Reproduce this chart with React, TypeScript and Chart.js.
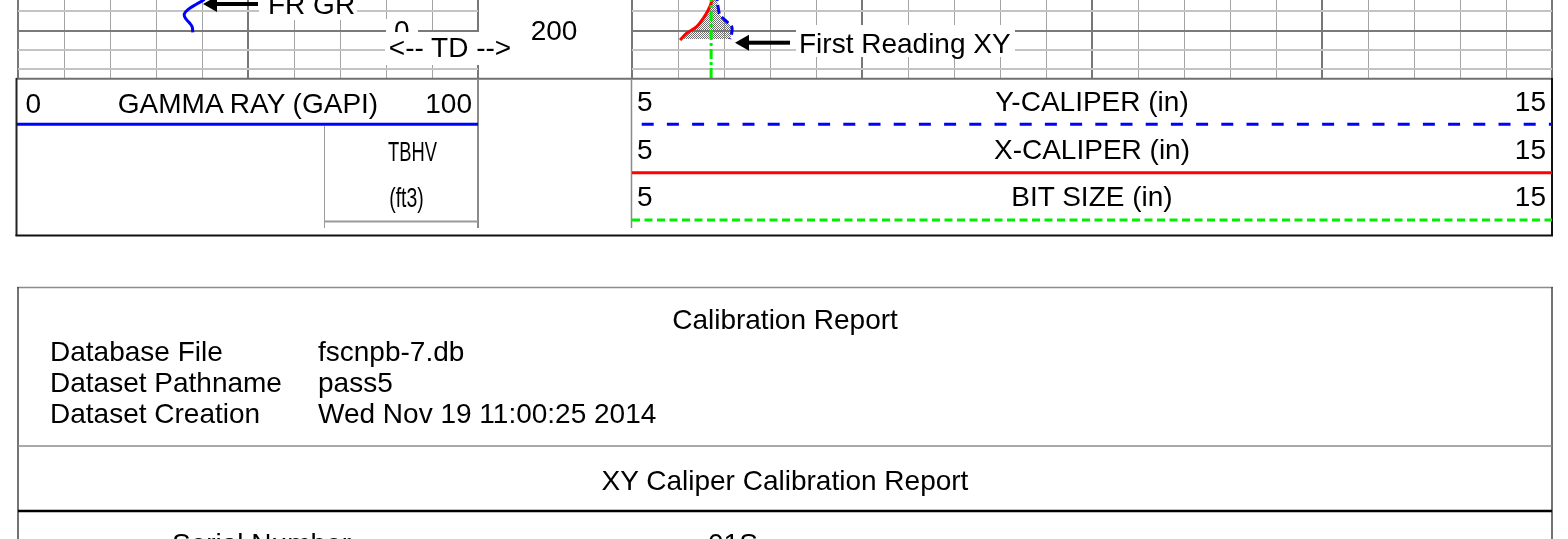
import React, { useEffect, useRef } from "react";
import { Chart, registerables } from "chart.js";
Chart.register(...registerables);

const FONT = '"Liberation Sans", Arial, Helvetica, sans-serif';

// Depth axis (ft) – shared by both tracks
const depthMin = 196;
const depthMax = 205;
const depthStep = 2;
const depthMajor = 10;

// Track 1: gamma ray
const grMin = 0;
const grMax = 100;
const grStep = 10;
const grMajor = 50;
const grDepth = [196.0, 196.83, 197.24, 197.79, 198.28, 198.72, 199.18, 199.59, 200.17];
const grValue = [41.7, 40.3, 38.85, 37.0, 36.15, 36.4, 37.25, 37.85, 38.0];

// Track 2: calipers (in)
const calMin = 5;
const calMax = 15;
const calStep = 0.5;
const calMajor = 2.5;
const xCalDepth = [196.0, 197.0, 197.86, 198.72, 199.59, 200.27, 200.97];
const xCalValue = [5.89, 5.866, 5.829, 5.775, 5.703, 5.595, 5.522];
const yCalDepth = [196.0, 196.83, 197.69, 198.38, 199.07, 199.59, 200.27, 200.86];
const yCalValue = [5.91, 5.925, 5.938, 5.957, 6.029, 6.084, 6.084, 6.065];
const bitDepth = [196, 205];
const bitValue = [5.86, 5.86];

// Header / report texts
const grHeader = ["0", "GAMMA RAY (GAPI)", "100"];
const calHeaders = ["Y-CALIPER (in)", "X-CALIPER (in)", "BIT SIZE (in)"];
const calScale = ["5", "15"];
const reportLabels = ["Database File", "Dataset Pathname", "Dataset Creation"];
const reportValues = ["fscnpb-7.db", "pass5", "Wed Nov 19 11:00:25 2014"];

function pts(xs: number[], ys: number[]) {
  return xs.map((x, i) => ({ x, y: ys[i] }));
}

function trackOptions(min: number, max: number, step: number, major: number): any {
  const isMul = (v: number, m: number, base: number) =>
    Math.abs((v - base) / m - Math.round((v - base) / m)) < 1e-6;
  return {
    responsive: false,
    maintainAspectRatio: false,
    animation: false,
    devicePixelRatio: 1,
    indexAxis: "y",
    layout: { padding: { left: 2, right: 2, top: 0, bottom: 0 }, autoPadding: false },
    plugins: { legend: { display: false }, tooltip: { enabled: false }, title: { display: false } },
    elements: { point: { radius: 0 } },
    scales: {
      x: {
        type: "linear",
        min,
        max,
        border: { display: false },
        ticks: { display: false, stepSize: step, includeBounds: false },
        grid: {
          drawTicks: false,
          color: (c: any) => (c.tick && isMul(c.tick.value, major, min) ? "#777777" : "#a4a4a4"),
          lineWidth: (c: any) => (c.tick && isMul(c.tick.value, major, min) ? 2 : 1),
        },
      },
      y: {
        type: "linear",
        reverse: true,
        min: depthMin,
        max: depthMax,
        border: { display: false },
        ticks: { display: false, stepSize: depthStep, includeBounds: false },
        grid: {
          drawTicks: false,
          color: (c: any) => (c.tick && c.tick.value % depthMajor === 0 ? "#7a7a7a" : "#c4c4c4"),
          lineWidth: 2,
        },
      },
    },
  };
}

function Arrow({ tipX, y, tailX }: { tipX: number; y: number; tailX: number }) {
  return (
    <g fill="#000">
      <polygon points={`${tipX},${y} ${tipX + 14},${y - 8} ${tipX + 14},${y + 8}`} />
      <rect x={tipX + 13} y={y - 2} width={tailX - tipX - 13} height={4} />
    </g>
  );
}

export default function App() {
  const grRef = useRef<HTMLCanvasElement>(null);
  const calRef = useRef<HTMLCanvasElement>(null);

  useEffect(() => {
    const pc = document.createElement("canvas");
    pc.width = 2;
    pc.height = 2;
    const g = pc.getContext("2d")!;
    g.fillStyle = "#707070";
    g.fillRect(0, 0, 1, 1);
    g.fillRect(1, 1, 1, 1);
    const pattern = g.createPattern(pc, "repeat");

    const c1 = new Chart(grRef.current!, {
      type: "line",
      data: {
        datasets: [
          {
            label: "GR",
            data: pts(grValue, grDepth),
            borderColor: "#0000ff",
            borderWidth: 3,
            tension: 0.35,
            fill: false,
          },
        ],
      },
      options: trackOptions(grMin, grMax, grStep, grMajor),
    } as any);

    const c2 = new Chart(calRef.current!, {
      type: "line",
      data: {
        datasets: [
          {
            label: "X-CALIPER",
            data: pts(xCalValue, xCalDepth),
            borderColor: "#ff0000",
            borderWidth: 3,
            tension: 0.35,
            fill: "+1",
            backgroundColor: pattern,
            order: 3,
          },
          {
            label: "Y-CALIPER",
            data: pts(yCalValue, yCalDepth),
            borderColor: "#0000ff",
            borderWidth: 3,
            borderDash: [9, 4],
            tension: 0.35,
            fill: false,
            order: 2,
          },
          {
            label: "BIT SIZE",
            data: pts(bitValue, bitDepth),
            borderColor: "#00ee00",
            borderWidth: 3,
            borderDash: [10, 3, 3, 3],
            fill: false,
            order: 1,
          },
        ],
      },
      options: trackOptions(calMin, calMax, calStep, calMajor),
    } as any);

    return () => {
      c1.destroy();
      c2.destroy();
    };
  }, []);

  const t = { fontFamily: FONT, fontSize: 28, fill: "#000" } as any;
  const small = { fontFamily: FONT, fontSize: 27, fill: "#000" } as any;

  return (
    <div
      style={{
        position: "absolute",
        left: 0,
        top: 0,
        width: 1568,
        height: 539,
        overflow: "hidden",
        background: "#ffffff",
      }}
    >
      <canvas
        ref={grRef}
        width={464}
        height={87}
        style={{ position: "absolute", left: 16, top: -8, width: 464, height: 87 }}
      />
      <canvas
        ref={calRef}
        width={924}
        height={87}
        style={{ position: "absolute", left: 630, top: -8, width: 924, height: 87 }}
      />
      <svg
        width={1568}
        height={539}
        style={{ position: "absolute", left: 0, top: 0, pointerEvents: "none" }}
      >
        {/* annotations on the tracks */}
        <rect x={259} y={-5} width={98} height={25} fill="#fff" />
        <text x={268} y={14} style={t}>FR GR</text>
        <Arrow tipX={203} y={4} tailX={258} />

        <rect x={386} y={19} width={32} height={14} fill="#fff" />
        <text x={394} y={39.5} style={t}>0</text>
        <rect x={385} y={32} width={129} height={33} fill="#fff" />
        <text x={450} y={57} textAnchor="middle" style={t}>{"<-- TD -->"}</text>
        <text x={554} y={39.5} textAnchor="middle" style={t}>200</text>

        <rect x={796} y={25} width={219} height={32} fill="#fff" />
        <text x={799} y={52.5} style={t}>First Reading XY</text>
        <Arrow tipX={735} y={42.7} tailX={790} />

        {/* header frame */}
        <line x1={16} y1={78.7} x2={1553} y2={78.7} stroke="#707070" strokeWidth={2} />
        <line x1={16.5} y1={78} x2={16.5} y2={236} stroke="#222" strokeWidth={2} />
        <line x1={1552} y1={78} x2={1552} y2={236} stroke="#111" strokeWidth={2} />
        <line x1={15.5} y1={235.5} x2={1553} y2={235.5} stroke="#111" strokeWidth={2} />
        <line x1={478} y1={79} x2={478} y2={228} stroke="#8a8a8a" strokeWidth={2} />
        <line x1={631.5} y1={79} x2={631.5} y2={228} stroke="#8a8a8a" strokeWidth={1.5} />

        {/* GR header */}
        <text x={25.5} y={113} style={t}>{grHeader[0]}</text>
        <text x={248} y={113} textAnchor="middle" style={t}>{grHeader[1]}</text>
        <text x={472} y={113} textAnchor="end" style={t}>{grHeader[2]}</text>
        <line x1={17} y1={124.3} x2={478} y2={124.3} stroke="#0000ff" strokeWidth={3} />
        <line x1={324.5} y1={126} x2={324.5} y2={228} stroke="#9a9a9a" strokeWidth={1} />
        <line x1={324} y1={221.5} x2={478} y2={221.5} stroke="#9a9a9a" strokeWidth={2} />
        <text transform="translate(412.5,161) scale(0.68,1)" textAnchor="middle" style={small}>TBHV</text>
        <text transform="translate(406.5,207) scale(0.72,1)" textAnchor="middle" style={small}>(ft3)</text>

        {/* caliper header */}
        {calHeaders.map((h, i) => {
          const base = [111, 159, 206][i];
          return (
            <g key={h}>
              <text x={637} y={base} style={t}>{calScale[0]}</text>
              <text x={1092} y={base} textAnchor="middle" style={t}>{h}</text>
              <text x={1546} y={base} textAnchor="end" style={t}>{calScale[1]}</text>
            </g>
          );
        })}
        <line x1={641.7} y1={124.3} x2={1552} y2={124.3} stroke="#0000ff" strokeWidth={3} strokeDasharray="12 13.2" />
        <line x1={632} y1={172.7} x2={1552} y2={172.7} stroke="#ff0000" strokeWidth={3} />
        <line x1={632} y1={220} x2={1552} y2={220} stroke="#00ee00" strokeWidth={3} strokeDasharray="8 4.5" />

        {/* calibration report box */}
        <line x1={17} y1={287.5} x2={1553} y2={287.5} stroke="#8c8c8c" strokeWidth={1.5} />
        <line x1={18} y1={287} x2={18} y2={539} stroke="#444" strokeWidth={1.5} />
        <line x1={1552} y1={287} x2={1552} y2={539} stroke="#444" strokeWidth={1.5} />
        <text x={785} y={329} textAnchor="middle" style={t}>Calibration Report</text>
        {reportLabels.map((l, i) => (
          <g key={l}>
            <text x={50} y={361 + i * 31} style={t}>{l}</text>
            <text x={318} y={361 + i * 31} style={t}>{reportValues[i]}</text>
          </g>
        ))}
        <line x1={18} y1={446} x2={1552} y2={446} stroke="#8c8c8c" strokeWidth={1.5} />
        <text x={785} y={490} textAnchor="middle" style={t}>XY Caliper Calibration Report</text>
        <line x1={18} y1={511} x2={1552} y2={511} stroke="#000" strokeWidth={2.5} />
        <text x={172} y={553} style={t}>Serial Number</text>
        <text x={708} y={553} style={t}>01S</text>
      </svg>
    </div>
  );
}
